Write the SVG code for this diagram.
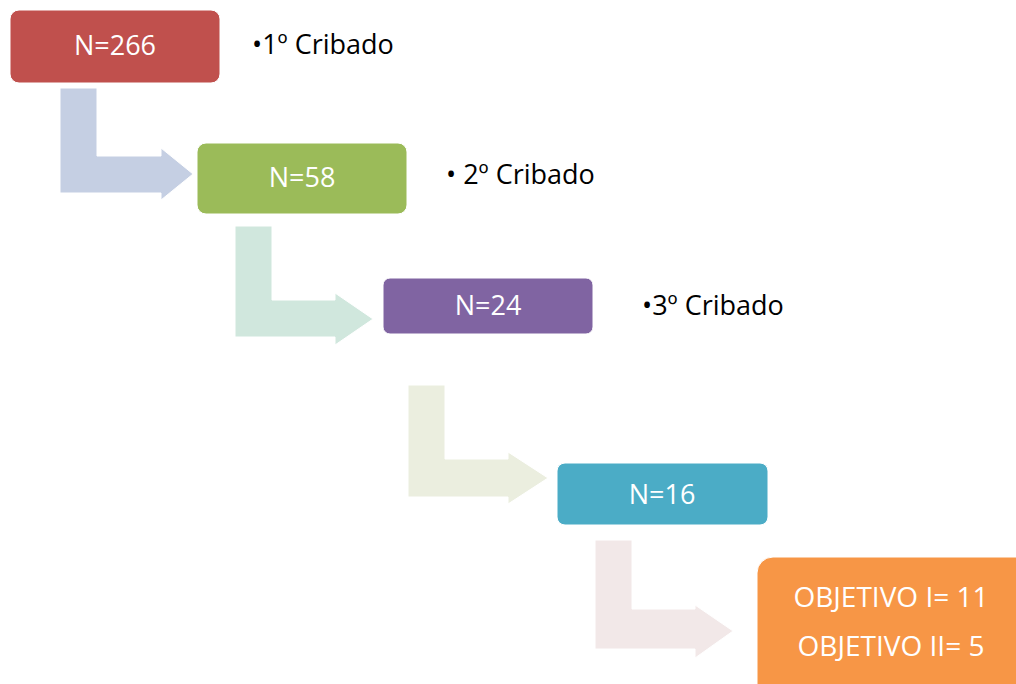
<svg xmlns="http://www.w3.org/2000/svg" width="1016" height="684" viewBox="0 0 1016 684">
<style>
.box{stroke:#ffffff;stroke-width:1}
.t{font-family:"Open Sans","Liberation Sans",sans-serif;fill:#ffffff;text-anchor:middle;font-size:27px}
.lbl{font-family:"Open Sans","Liberation Sans",sans-serif;fill:#000000;font-size:27px}
.arr{stroke:#ffffff;stroke-width:1}
</style>
<rect width="1016" height="684" fill="#ffffff"/>
<g id="connectors">
<polygon class="arr" fill="#C5CFE3" points="60,88 97,88 97,156 161,156 161,148 193,174 161,200 161,193 60,193"/>
<polygon class="arr" fill="#D0E7DD" points="235,226 272,226 272,300 335,300 335,293 373,319 335,345 335,337 235,337"/>
<polygon class="arr" fill="#EBEEDF" points="408,385 445,385 445,459 508,459 508,452 548,478 508,504 508,497 408,497"/>
<polygon class="arr" fill="#F2E8E8" points="595,540 632,540 632,609 695,609 695,605 733,631 695,658 695,649 595,649"/>
</g>
<g id="n266"><rect class="box" x="10" y="10" width="210" height="73" rx="9" fill="#C0504D"/><text class="t" x="115" y="55">N=266</text></g>
<g id="lbl1"><text class="lbl" x="252" y="54">•1º Cribado</text></g>
<g id="n58"><rect class="box" x="197" y="143" width="210" height="71" rx="9" fill="#9BBB59"/><text class="t" x="302" y="187">N=58</text></g>
<g id="lbl2"><text class="lbl" x="446" y="184">• 2º Cribado</text></g>
<g id="n24"><rect class="box" x="383" y="278" width="210" height="56" rx="7" fill="#8064A2"/><text class="t" x="488" y="315">N=24</text></g>
<g id="lbl3"><text class="lbl" x="642" y="315">•3º Cribado</text></g>
<g id="n16"><rect class="box" x="557" y="463" width="211" height="62" rx="8" fill="#4BACC6"/><text class="t" x="662" y="504">N=16</text></g>
<g id="obj"><rect class="box" x="757" y="557" width="280" height="150" rx="16" fill="#F79646"/><text class="t" x="891" y="607" style="font-size:28px">OBJETIVO I= 11</text><text class="t" x="891" y="656" style="font-size:28px">OBJETIVO II= 5</text></g>
</svg>
